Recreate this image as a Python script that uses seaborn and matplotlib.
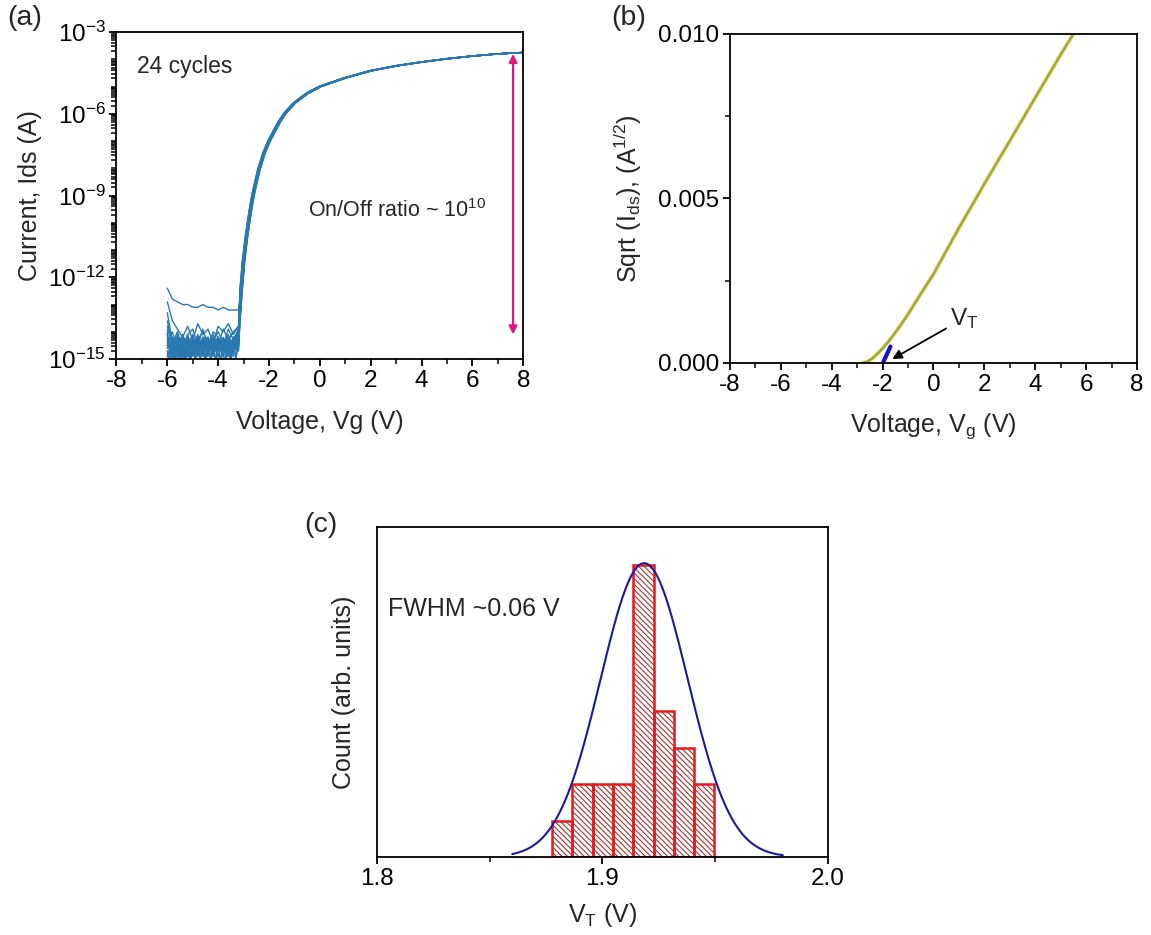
import numpy as np
import pandas as pd
import matplotlib
matplotlib.use("Agg")
import matplotlib.pyplot as plt
import matplotlib.ticker as mticker
import seaborn as sns

# ---- data: (a) transfer curves, 24 cycles ----
off_v = [-6.0, -5.8, -5.6, -5.4, -5.2, -5.0, -4.8, -4.6, -4.4, -4.2, -4.0, -3.8, -3.6, -3.4, -3.2]
off_log_i = [
    [-12.4, -12.8, -12.9, -13.0, -13.0, -13.1, -13.1, -13.0, -13.1, -13.1, -13.2, -13.1, -13.2, -13.2, -13.2],
    [-12.9, -13.6, -13.9, -14.2, -13.8, -14.3, -13.7, -14.1, -13.9, -14.4, -13.8, -14.0, -13.7, -14.1, -13.8],
    [-13.3, -14.4, -14.0, -14.6, -14.1, -13.9, -14.5, -13.9, -14.6, -14.0, -14.2, -14.5, -13.9, -14.3, -13.9],
    [-13.6, -14.5, -14.1, -15.6, -14.2, -14.8, -14.3, -14.0, -14.4, -14.1, -14.5, -13.9, -14.3, -14.0, -13.8],
    [-14.0, -15.7, -14.4, -14.2, -14.9, -14.3, -14.6, -14.2, -14.7, -14.3, -14.0, -14.4, -14.1, -14.6, -13.9],
    [-14.2, -14.6, -15.8, -14.3, -14.5, -14.1, -14.9, -14.4, -14.2, -14.8, -14.3, -14.6, -14.2, -15.6, -14.0],
    [-14.5, -14.0, -14.7, -14.4, -15.8, -14.2, -14.5, -14.8, -14.3, -14.5, -15.7, -14.3, -14.7, -14.2, -14.1],
    [-14.8, -15.8, -14.3, -14.8, -14.3, -14.6, -14.2, -15.7, -14.6, -14.2, -14.7, -14.5, -14.3, -14.8, -14.2],
    [-14.3, -14.8, -14.5, -14.1, -14.6, -15.8, -14.4, -14.3, -14.9, -14.4, -14.2, -14.8, -15.7, -14.3, -14.0],
    [-15.6, -14.4, -14.9, -14.6, -14.1, -14.7, -14.5, -14.9, -14.2, -15.8, -14.6, -14.3, -14.5, -14.6, -14.1],
    [-14.6, -14.2, -14.6, -15.5, -14.4, -14.3, -14.8, -14.5, -14.7, -14.3, -14.9, -14.4, -14.2, -15.7, -14.3],
    [-14.1, -14.7, -14.2, -14.5, -14.8, -14.4, -15.8, -14.2, -14.5, -14.7, -14.4, -14.7, -14.6, -14.4, -14.2],
    [-14.9, -14.3, -14.8, -14.3, -14.6, -15.6, -14.3, -14.6, -15.8, -14.4, -14.3, -14.6, -14.9, -14.5, -14.4],
    [-14.4, -14.9, -14.3, -14.9, -14.3, -14.5, -14.7, -14.4, -14.3, -14.6, -14.8, -15.7, -14.4, -14.7, -14.3],
    [-13.8, -14.3, -15.0, -14.4, -14.7, -14.4, -14.2, -14.7, -14.4, -14.9, -14.2, -14.5, -14.8, -14.3, -14.5],
    [-14.7, -15.5, -14.6, -14.7, -14.2, -14.9, -14.6, -14.3, -14.8, -14.2, -14.6, -14.2, -14.6, -15.8, -14.2],
    [-14.2, -14.5, -14.4, -15.7, -14.7, -14.3, -14.5, -15.6, -14.3, -14.6, -14.4, -14.9, -14.3, -14.5, -14.0],
    [-15.5, -14.6, -14.2, -14.6, -15.7, -14.6, -14.1, -14.6, -14.4, -15.6, -14.5, -14.3, -14.7, -14.3, -14.3],
    [-14.4, -14.8, -14.7, -14.3, -14.5, -14.8, -14.7, -14.2, -15.6, -14.5, -14.3, -14.7, -14.5, -14.9, -14.6],
    [-14.6, -14.4, -15.6, -14.8, -14.4, -14.2, -15.5, -14.5, -14.6, -14.3, -15.8, -14.6, -14.4, -14.6, -14.4],
    [-14.3, -15.0, -14.5, -14.5, -14.9, -14.7, -14.3, -14.8, -14.5, -14.7, -14.5, -15.6, -14.6, -14.2, -14.1],
    [-13.9, -14.4, -14.8, -14.2, -14.4, -14.5, -14.6, -14.3, -14.2, -14.8, -14.3, -14.4, -15.5, -14.6, -14.5],
    [-14.5, -14.7, -14.3, -15.0, -14.3, -15.7, -14.4, -14.5, -14.7, -14.4, -14.6, -14.3, -14.5, -14.4, -14.7],
    [-14.1, -14.6, -14.6, -14.4, -14.6, -14.4, -14.8, -14.6, -15.5, -14.5, -14.7, -14.5, -14.2, -14.8, -14.3],
]
on_v = [-3.1, -3.0, -2.9, -2.8, -2.7, -2.6, -2.4, -2.2, -2.0, -1.8, -1.6, -1.4, -1.2, -1.0,
        -0.5, 0.0, 1.0, 2.0, 3.0, 4.0, 5.0, 6.0, 7.0, 8.0]
on_log_i = [-12.5, -11.4, -10.6, -9.95, -9.35, -8.85, -8.05, -7.45, -7.0, -6.65, -6.3, -6.02, -5.8, -5.6,
            -5.25, -5.0, -4.68, -4.42, -4.24, -4.1, -3.98, -3.88, -3.8, -3.75]
cycle_shift = [0.00, -0.02, 0.03, 0.01, -0.04, 0.02, -0.01, 0.04, -0.03, 0.00, 0.02, -0.02,
               0.05, -0.05, 0.01, 0.03, -0.01, -0.03, 0.02, 0.00, 0.04, -0.02, 0.01, -0.04]

# ---- data: (b) sqrt(Ids) vs Vg ----
sq_v = [-2.8, -2.6, -2.4, -2.2, -2.0, -1.8, -1.6, -1.4, -1.2, -1.0, -0.5, 0.0, 1.0, 2.0, 3.0, 4.0, 5.0, 5.5]
sq_i = [0.0, 0.00004, 0.00014, 0.00028, 0.00044, 0.00062, 0.00082, 0.00103, 0.00125, 0.00148,
        0.0021, 0.0027, 0.0041, 0.00544, 0.00675, 0.00806, 0.00937, 0.0100]
fit_v = [-1.99, -1.69]
fit_sq = [0.0, 0.0005]

# ---- data: (c) threshold voltage histogram ----
vt_values = [1.882,
             1.889, 1.893,
             1.898, 1.902,
             1.907, 1.911,
             1.915, 1.916, 1.917, 1.918, 1.919, 1.920, 1.921, 1.922,
             1.924, 1.926, 1.928, 1.930,
             1.933, 1.936, 1.939,
             1.943, 1.947]
bin_start = 1.8777
bin_width = 0.009
n_bins = 8
gauss_center = 1.9185
gauss_sigma = 0.0193
gauss_amp = 8.05

sns.set_theme(style="white")
plt.rcParams['font.family'] = ['Liberation Sans', 'DejaVu Sans']
plt.rcParams['mathtext.default'] = 'regular'
plt.rcParams['axes.linewidth'] = 1.3
plt.rcParams['xtick.direction'] = 'out'
plt.rcParams['ytick.direction'] = 'out'
plt.rcParams['hatch.linewidth'] = 0.8

TICK_FS = 17.5
LABEL_FS = 18
fig = plt.figure(figsize=(11.51, 9.35), dpi=100)
ax_a = fig.add_axes([0.1012, 0.616, 0.3534, 0.3497])
ax_b = fig.add_axes([0.6342, 0.6118, 0.3536, 0.3519])
ax_c = fig.add_axes([0.3275, 0.0834, 0.3918, 0.3529])


def style_ticks(ax):
    ax.tick_params(which='major', length=5, width=1.3, labelsize=TICK_FS, pad=3,
                   bottom=True, left=True, top=False, right=False, colors='black')
    ax.tick_params(which='minor', length=3.5, width=1.1, colors='black',
                   bottom=True, left=True, top=False, right=False)
    for s in ax.spines.values():
        s.set_color('black')
        s.set_linewidth(1.3)


# ---- panel (a) ----
rows = []
for k in range(24):
    for v, li in zip(off_v, off_log_i[k]):
        rows.append((k, v, 10 ** li))
    for v, li in zip(on_v, on_log_i):
        rows.append((k, v + cycle_shift[k], 10 ** li))
df_a = pd.DataFrame(rows, columns=['cycle', 'v', 'ids'])
sns.lineplot(data=df_a, x='v', y='ids', units='cycle', estimator=None,
             color='#2a78b0', lw=1.0, ax=ax_a, legend=False)
ax_a.set_yscale('log')
ax_a.set_ylim(1e-15, 1e-3)
ax_a.set_xlim(-8, 8)
ax_a.xaxis.set_major_locator(mticker.MultipleLocator(2))
ax_a.xaxis.set_minor_locator(mticker.MultipleLocator(1))
ax_a.yaxis.set_major_locator(mticker.FixedLocator([10.0 ** e for e in range(-15, -2, 3)]))
minor_log = [m * 10.0 ** e for e in range(-15, -3) for m in range(1, 10)
             if not (m == 1 and e % 3 == 0)]
ax_a.yaxis.set_minor_locator(mticker.FixedLocator(minor_log))
ax_a.yaxis.set_major_formatter(mticker.FuncFormatter(lambda y, p: r'$10^{%d}$' % round(np.log10(y))))
ax_a.yaxis.set_minor_formatter(mticker.NullFormatter())
ax_a.xaxis.set_major_formatter(mticker.FuncFormatter(lambda x, p: '%d' % x))
style_ticks(ax_a)
ax_a.set_xlabel('Voltage, Vg (V)', fontsize=LABEL_FS, labelpad=13)
ax_a.set_ylabel('Current, Ids (A)', fontsize=LABEL_FS, labelpad=4)
ax_a.text(-7.2, 10 ** -4.28, '24 cycles', fontsize=16.5, va='center', ha='left')
ax_a.text(-0.45, 10 ** -9.55, r'On/Off ratio ~ 10$^{10}$', fontsize=15.5, va='center', ha='left')
ax_a.annotate('', xy=(7.6, 10 ** -14.1), xytext=(7.6, 10 ** -3.8),
              arrowprops=dict(arrowstyle='<|-|>', color='#e0157f', lw=1.6, mutation_scale=12,
                              shrinkA=0, shrinkB=0))
fig.text(0.006, 0.981, '(a)', fontsize=20.5, va='center', ha='left')

# ---- panel (b) ----
df_b = pd.DataFrame({'v': sq_v, 'sq': sq_i})
sns.lineplot(data=df_b, x='v', y='sq', color='#e6d04a', lw=2.8, ax=ax_b)
sns.lineplot(data=df_b, x='v', y='sq', color='#8ea84c', lw=1.4, ax=ax_b)
sns.lineplot(x=fit_v, y=fit_sq, color='#1414d2', lw=3, ax=ax_b)
ax_b.set_xlim(-8, 8)
ax_b.set_ylim(0, 0.010)
ax_b.xaxis.set_major_locator(mticker.MultipleLocator(2))
ax_b.xaxis.set_minor_locator(mticker.MultipleLocator(1))
ax_b.yaxis.set_major_locator(mticker.MultipleLocator(0.005))
ax_b.yaxis.set_minor_locator(mticker.MultipleLocator(0.0025))
ax_b.yaxis.set_major_formatter(mticker.FormatStrFormatter('%.3f'))
ax_b.xaxis.set_major_formatter(mticker.FuncFormatter(lambda x, p: '%d' % x))
style_ticks(ax_b)
ax_b.set_xlabel('Voltage, V$_g$ (V)', fontsize=LABEL_FS, labelpad=11)
ax_b.set_ylabel('Sqrt (I$_{ds}$), (A$^{1/2}$)', fontsize=LABEL_FS, labelpad=10)
ax_b.annotate('', xy=(-1.62, 0.00012), xytext=(0.5, 0.00105),
              arrowprops=dict(arrowstyle='-|>', color='black', lw=1.3, mutation_scale=14,
                              shrinkA=0, shrinkB=0))
ax_b.text(0.65, 0.00135, 'V$_T$', fontsize=17.5, va='center', ha='left')
fig.text(0.531, 0.981, '(b)', fontsize=20.5, va='center', ha='left')

# ---- panel (c) ----
edges = [bin_start + bin_width * i for i in range(n_bins + 1)]
sns.histplot(x=vt_values, bins=edges, stat='count', ax=ax_c, fill=True,
             facecolor='white', edgecolor='#a8322c', linewidth=0, hatch='\\\\\\\\\\\\')
sns.histplot(x=vt_values, bins=edges, stat='count', ax=ax_c, fill=False,
             element='bars', color='#e41a1c', linewidth=1.8)
for p in ax_c.patches[n_bins:]:
    p.set_edgecolor('#e41a1c')
gx = np.linspace(1.86, 1.98, 300)
gy = gauss_amp * np.exp(-(gx - gauss_center) ** 2 / (2 * gauss_sigma ** 2))
sns.lineplot(x=gx, y=gy, color='#1a1a9c', lw=1.5, ax=ax_c)
ax_c.set_xlim(1.8, 2.0)
ax_c.set_ylim(0, 9.04)
ax_c.xaxis.set_major_locator(mticker.MultipleLocator(0.1))
ax_c.xaxis.set_minor_locator(mticker.MultipleLocator(0.05))
ax_c.xaxis.set_major_formatter(mticker.FormatStrFormatter('%.1f'))
ax_c.set_yticks([])
style_ticks(ax_c)
ax_c.tick_params(left=False, which='both')
ax_c.set_xlabel('V$_T$ (V)', fontsize=LABEL_FS, labelpad=8)
ax_c.set_ylabel('Count (arb. units)', fontsize=LABEL_FS, labelpad=15)
ax_c.text(1.805, 6.8, 'FWHM ~0.06 V', fontsize=18, va='center', ha='left')
fig.text(0.264, 0.4385, '(c)', fontsize=20.5, va='center', ha='left')

fig.savefig('out.png', dpi=100)
